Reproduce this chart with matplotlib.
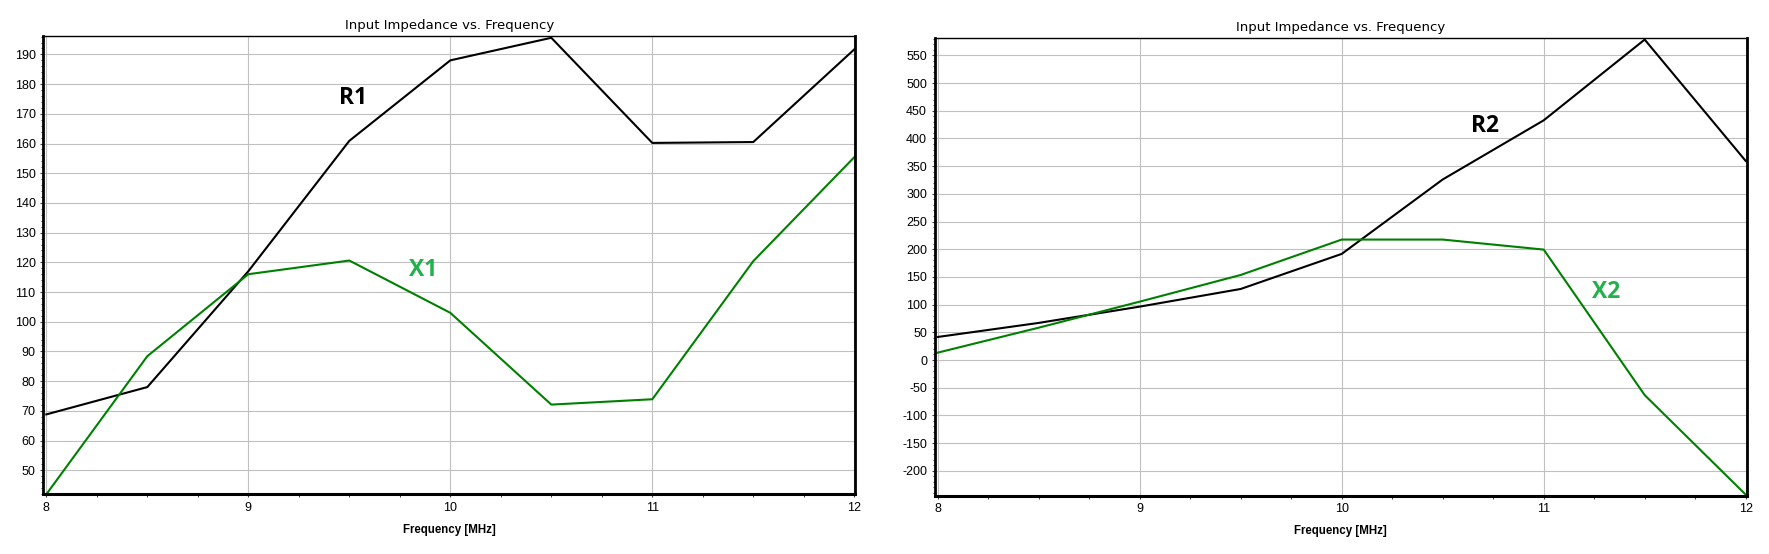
import matplotlib
matplotlib.use("Agg")
import matplotlib.pyplot as plt
from matplotlib.ticker import MultipleLocator

# ---- data ----
freq = [8.0, 8.5, 9.0, 9.5, 10.0, 10.5, 11.0, 11.5, 12.0]
R1 = [68.8, 78.0, 117.0, 160.9, 188.0, 195.6, 160.2, 160.5, 191.7]
X1 = [41.9, 88.4, 116.0, 120.6, 103.0, 72.1, 73.9, 120.4, 155.4]
R2 = [41.6, 67.0, 96.4, 128.3, 191.6, 326.0, 432.8, 578.6, 359.5]
X2 = [13.3, 58.4, 105.4, 153.6, 217.5, 217.5, 199.4, -63.4, -243.0]

title = "Input Impedance vs. Frequency"
xlabel = "Frequency [MHz]"
xticks = [8, 9, 10, 11, 12]
yticks_left = list(range(50, 200, 10))
yticks_right = list(range(-200, 600, 50))

BLACK = "#000000"
GREEN = "#008000"
LABEL_GREEN = "#22b14c"

W, H = 1769, 554
fig = plt.figure(figsize=(W / 100, H / 100), dpi=100)


def make_axes(px_left, px_right, px_top, px_bottom):
    return fig.add_axes([px_left / W, 1 - px_bottom / H,
                         (px_right - px_left) / W, (px_bottom - px_top) / H])


def style(ax, yticks, ymin, ymax, yminor):
    ax.set_xlim(7.985, 12.005)
    ax.set_ylim(ymin, ymax)
    ax.set_xticks(xticks)
    ax.set_xticklabels([str(t) for t in xticks])
    ax.set_yticks(yticks)
    ax.set_yticklabels([str(t) for t in yticks])
    ax.xaxis.set_minor_locator(MultipleLocator(0.25))
    ax.yaxis.set_minor_locator(MultipleLocator(yminor))
    ax.grid(True, which="major", color="#c0c0c0", linewidth=0.8)
    ax.set_axisbelow(True)
    ax.tick_params(axis="both", which="major", direction="out", length=2.5,
                   width=0.8, color="#404040", labelsize=9, pad=3)
    ax.tick_params(axis="both", which="minor", direction="out", length=1.8,
                   width=0.7, color="#404040")
    for lab in ax.get_xticklabels() + ax.get_yticklabels():
        lab.set_fontfamily("Liberation Sans")
    ax.spines["left"].set_linewidth(2.0)
    ax.spines["bottom"].set_linewidth(2.2)
    ax.spines["right"].set_linewidth(2.0)
    ax.spines["top"].set_linewidth(1.0)
    ax.set_title(title, fontsize=9.5, family="DejaVu Sans", pad=5)
    ax.set_xlabel(xlabel, fontsize=8.3, fontweight="bold",
                  family="Liberation Sans", labelpad=7)


# left panel
ax1 = make_axes(43.3, 855.3, 36.0, 494.3)
ax1.plot(freq, R1, color=BLACK, linewidth=1.5)
ax1.plot(freq, X1, color=GREEN, linewidth=1.5)
style(ax1, yticks_left, 41.9, 196.2, 2)
ax1.text(9.52, 175.3, "R1", color=BLACK, fontsize=16.5, fontweight="bold",
         family="Open Sans", ha="center", va="center")
ax1.text(9.865, 117.4, "X1", color=LABEL_GREEN, fontsize=16.5, fontweight="bold",
         family="Open Sans", ha="center", va="center")

# right panel
ax2 = make_axes(934.7, 1746.7, 37.7, 495.7)
ax2.plot(freq, R2, color=BLACK, linewidth=1.5)
ax2.plot(freq, X2, color=GREEN, linewidth=1.5)
style(ax2, yticks_right, -245.0, 582.0, 10)
ax2.text(10.71, 423.0, "R2", color=BLACK, fontsize=16.5, fontweight="bold",
         family="Open Sans", ha="center", va="center")
ax2.text(11.31, 122.0, "X2", color=LABEL_GREEN, fontsize=16.5, fontweight="bold",
         family="Open Sans", ha="center", va="center")

fig.savefig("out.png", dpi=100)
